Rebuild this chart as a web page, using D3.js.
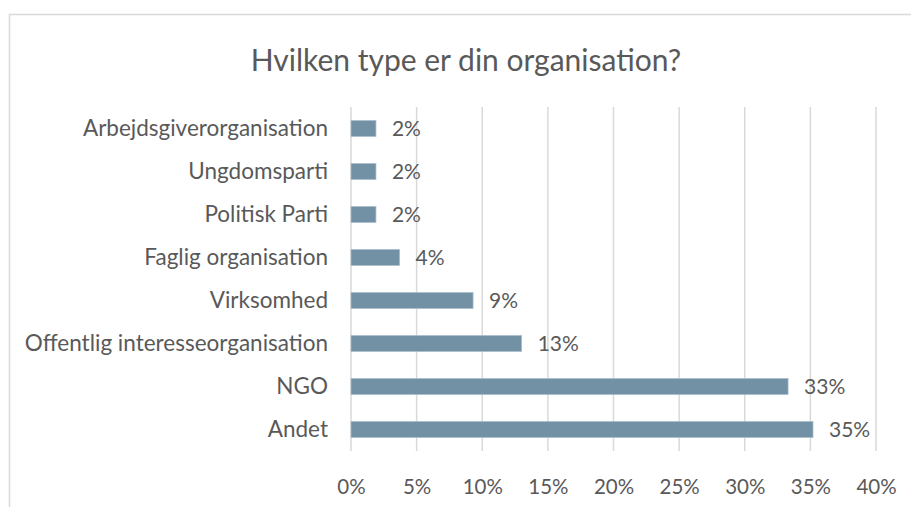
<!DOCTYPE html>
<html>
<head>
<meta charset="utf-8">
<script src="https://cdn.jsdelivr.net/npm/d3@7"></script>
<style>
  body { margin: 0; background: #fff; }
  text { font-family: Lato, "Open Sans", sans-serif; fill: #595959; }
</style>
</head>
<body>
<div class="bar_chart"></div>
<script>
// data, top to bottom as in the chart
var categories = [
  "Arbejdsgiverorganisation",
  "Ungdomsparti",
  "Politisk Parti",
  "Faglig organisation",
  "Virksomhed",
  "Offentlig interesseorganisation",
  "NGO",
  "Andet"
];
var values = [0.019, 0.019, 0.019, 0.037, 0.093, 0.13, 0.333, 0.352];
var labels = ["2%", "2%", "2%", "4%", "9%", "13%", "33%", "35%"];
var ticks = [0, 0.05, 0.1, 0.15, 0.2, 0.25, 0.3, 0.35, 0.4];

var W = 911, H = 507;
var margin = { top: 107, right: 35, bottom: 56, left: 351 };
var width = W - margin.left - margin.right,
  height = H - margin.top - margin.bottom;

var svg = d3
  .select(".bar_chart")
  .append("svg")
  .attr("width", W)
  .attr("height", H);

// chart border (right and bottom run off the picture)
svg
  .append("path")
  .attr("d", "M9.5," + (H + 5) + "V14.5H" + (W + 5))
  .attr("fill", "none")
  .attr("stroke", "#d9d9d9")
  .attr("stroke-width", 1.5);

svg
  .append("text")
  .attr("x", 466)
  .attr("y", 71)
  .attr("text-anchor", "middle")
  .style("font-size", "30px")
  .text("Hvilken type er din organisation?");

var x = d3.scaleLinear().domain([0, 0.4]).range([0, width]);
var y = d3.scaleBand().domain(categories).range([0, height]).paddingInner(0.63).paddingOuter(0.315);

var chart = svg
  .append("g")
  .attr("transform", "translate(" + margin.left + "," + margin.top + ")");

// gridlines
chart
  .selectAll(".grid")
  .data(ticks)
  .enter()
  .append("line")
  .attr("class", "grid")
  .attr("x1", function (d) { return x(d); })
  .attr("x2", function (d) { return x(d); })
  .attr("y1", 0)
  .attr("y2", height)
  .style("stroke", "#d9d9d9")
  .style("stroke-width", "1.5px");

// x axis labels
var xAxis = chart
  .append("g")
  .attr("class", "x axis")
  .attr("transform", "translate(0," + height + ")")
  .call(d3.axisBottom(x).tickValues(ticks).tickFormat(d3.format(".0%")).tickSize(0).tickPadding(28));
xAxis.select(".domain").remove();
xAxis.selectAll("text").style("font-size", "20.5px").attr("fill", "#595959");

// y axis labels
var yAxis = chart
  .append("g")
  .attr("class", "y axis")
  .call(d3.axisLeft(y).tickSize(0).tickPadding(23));
yAxis.select(".domain").remove();
yAxis.selectAll("text").style("font-size", "22.5px").attr("fill", "#595959");

// bars
chart
  .selectAll(".bar")
  .data(values)
  .enter()
  .append("rect")
  .attr("class", "bar")
  .attr("x", x(0))
  .attr("y", function (d, i) { return y(categories[i]); })
  .attr("width", function (d) { return x(d) - x(0); })
  .attr("height", y.bandwidth())
  .style("fill", "#7391a5")
  .style("stroke", "#a9bccb")
  .style("stroke-width", "0.75px");

// data labels
chart
  .selectAll(".label")
  .data(values)
  .enter()
  .append("text")
  .attr("class", "label")
  .attr("x", function (d) { return x(d) + 16; })
  .attr("y", function (d, i) { return y(categories[i]) + y.bandwidth() / 2; })
  .attr("dy", ".35em")
  .style("font-size", "21px")
  .text(function (d, i) { return labels[i]; });
</script>
</body>
</html>
